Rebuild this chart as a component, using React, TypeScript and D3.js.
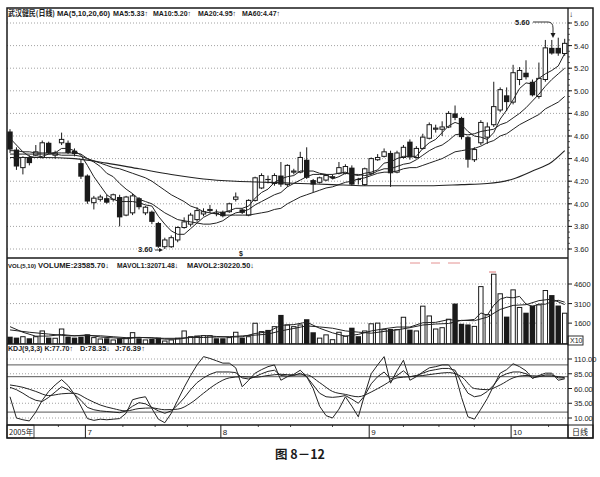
import React from "react";
import * as d3 from "d3";

// ---- candle data (index 0 = mid-June 2005) ----
const opens = [4.64,4.48,4.32,4.41,4.43,4.41,4.54,4.43,4.54,4.54,4.47,4.36,4.25,4.01,4.04,4.05,4.04,4.06,3.90,3.92,4.05,3.92,3.93,3.83,3.62,3.62,3.68,3.79,3.82,3.86,3.91,3.94,3.92,3.93,3.93,4.04,3.95,3.90,4.03,4.14,4.22,4.18,4.25,4.17,4.28,4.28,4.39,4.21,4.19,4.21,4.24,4.27,4.27,4.32,4.22,4.17,4.27,4.39,4.42,4.45,4.28,4.41,4.55,4.41,4.49,4.58,4.66,4.66,4.68,4.80,4.76,4.59,4.39,4.54,4.59,4.70,4.83,4.96,4.90,5.10,5.16,5.08,4.95,5.10,5.38,5.38,5.33];
const closes = [4.48,4.33,4.41,4.36,4.46,4.54,4.45,4.45,4.57,4.45,4.44,4.24,4.02,4.05,4.06,4.01,4.08,3.88,4.06,4.07,3.97,3.97,3.84,3.62,3.68,3.70,3.79,3.84,3.90,3.94,3.93,3.95,3.91,3.89,4.00,4.06,3.92,4.03,4.23,4.25,4.21,4.25,4.17,4.34,4.29,4.41,4.23,4.17,4.23,4.25,4.24,4.32,4.33,4.17,4.21,4.31,4.40,4.41,4.46,4.27,4.45,4.50,4.41,4.49,4.59,4.70,4.67,4.68,4.80,4.76,4.59,4.39,4.48,4.72,4.68,4.86,5.01,4.90,5.16,5.18,5.12,4.96,5.11,5.38,5.33,5.33,5.42];
const highs = [4.66,4.50,4.42,4.43,4.52,4.56,4.55,4.47,4.63,4.56,4.49,4.39,4.26,4.07,4.08,4.08,4.09,4.08,4.07,4.09,4.06,3.98,3.94,3.84,3.70,3.72,3.80,3.88,3.92,3.97,3.96,3.99,3.95,3.94,4.01,4.10,3.96,4.04,4.24,4.27,4.25,4.27,4.37,4.35,4.31,4.46,4.50,4.22,4.24,4.26,4.26,4.37,4.35,4.34,4.23,4.32,4.41,4.44,4.49,4.47,4.47,4.52,4.57,4.51,4.62,4.72,4.70,4.73,4.82,4.87,4.77,4.60,4.50,4.74,4.72,5.08,5.03,5.03,5.23,5.21,5.27,5.10,5.25,5.45,5.45,5.47,5.46];
const lows = [4.45,4.30,4.26,4.34,4.42,4.40,4.44,4.40,4.52,4.44,4.42,4.22,4.00,3.95,4.02,4.00,4.02,3.80,3.89,3.90,3.95,3.90,3.82,3.61,3.60,3.61,3.66,3.78,3.80,3.84,3.89,3.92,3.89,3.88,3.92,4.02,3.91,3.89,4.02,4.13,4.18,4.16,4.15,4.15,4.26,4.27,4.22,4.10,4.18,4.20,4.22,4.26,4.26,4.16,4.17,4.16,4.26,4.38,4.41,4.15,4.27,4.40,4.39,4.40,4.48,4.57,4.63,4.60,4.67,4.74,4.57,4.32,4.37,4.52,4.53,4.68,4.81,4.82,4.88,5.05,5.10,4.95,4.93,5.08,5.32,5.31,5.31];
const volumes = [560,490,560,440,560,1000,490,440,1150,560,490,560,740,490,385,440,310,440,440,870,440,310,385,490,230,310,440,1000,560,610,640,640,440,440,490,900,490,560,1590,950,1080,1330,2230,1460,1330,1460,1900,900,450,700,330,900,600,1250,600,1000,1550,1600,1100,1150,1100,2050,1100,1000,2900,2150,1150,1250,1900,3100,1550,1500,1350,4400,2250,5350,3850,2100,4150,2800,2400,2950,3000,4100,3750,2950,2360];

// ---- moving averages ----
const ma5 = [4.58,4.52,4.46,4.42,4.41,4.42,4.44,4.45,4.49,4.49,4.47,4.43,4.34,4.24,4.16,4.08,4.04,4.02,4.02,4.02,4.01,3.99,3.98,3.89,3.82,3.76,3.73,3.73,3.78,3.83,3.88,3.91,3.93,3.92,3.94,3.96,3.96,3.98,4.05,4.10,4.13,4.19,4.22,4.24,4.25,4.29,4.29,4.29,4.27,4.26,4.22,4.24,4.27,4.26,4.25,4.27,4.28,4.30,4.36,4.37,4.40,4.42,4.42,4.42,4.49,4.54,4.57,4.63,4.69,4.72,4.70,4.64,4.60,4.59,4.57,4.63,4.75,4.83,4.92,5.02,5.07,5.06,5.11,5.15,5.18,5.22,5.33];
const ma10 = [4.47,4.47,4.46,4.46,4.45,4.45,4.45,4.45,4.45,4.45,4.45,4.44,4.40,4.37,4.33,4.27,4.24,4.18,4.13,4.09,4.04,4.02,4.00,3.96,3.92,3.89,3.86,3.85,3.84,3.83,3.82,3.82,3.83,3.85,3.89,3.92,3.93,3.95,3.99,4.02,4.05,4.08,4.10,4.15,4.18,4.21,4.24,4.26,4.26,4.26,4.26,4.27,4.28,4.26,4.26,4.25,4.26,4.29,4.31,4.31,4.33,4.35,4.36,4.39,4.43,4.47,4.50,4.52,4.56,4.61,4.62,4.61,4.62,4.64,4.65,4.66,4.70,4.72,4.76,4.80,4.85,4.91,4.97,5.04,5.10,5.15,5.20];
const ma20 = [4.44,4.44,4.44,4.44,4.44,4.44,4.44,4.44,4.43,4.43,4.43,4.42,4.40,4.38,4.36,4.34,4.32,4.31,4.29,4.27,4.25,4.23,4.20,4.16,4.12,4.08,4.05,4.02,3.98,3.96,3.93,3.92,3.91,3.90,3.90,3.90,3.90,3.90,3.91,3.92,3.93,3.95,3.96,4.00,4.03,4.06,4.08,4.10,4.12,4.14,4.15,4.17,4.19,4.20,4.22,4.23,4.25,4.27,4.28,4.28,4.29,4.31,4.32,4.32,4.34,4.36,4.38,4.40,4.43,4.46,4.47,4.48,4.49,4.51,4.54,4.56,4.60,4.62,4.66,4.70,4.73,4.76,4.79,4.84,4.87,4.90,4.95];
const ma60Pts = [[0,4.41],[5,4.41],[10,4.40],[15,4.36],[20,4.31],[25,4.26],[30,4.22],[35,4.20],[40,4.19],[45,4.18],[50,4.17],[55,4.16],[60,4.16],[65,4.16],[70,4.17],[74,4.18],[78,4.22],[81,4.29],[84,4.37],[86,4.47]];

const volMa5Pts = [[0,1330],[2,900],[4,600],[6,610],[8,728],[10,626],[12,700],[14,533],[16,473],[18,403],[20,500],[22,489],[24,371],[26,371],[28,508],[30,650],[32,578],[34,530],[36,552],[38,806],[40,934],[42,1436],[44,1486],[46,1676],[48,1208],[50,856],[52,596],[54,736],[56,1000],[58,1170],[60,1300],[62,1300],[64,1630],[66,1660],[68,1870],[70,1790],[72,1880],[73,2380],[74,2210],[75,2970],[76,3440],[77,3590],[78,3540],[79,3650],[80,3060],[81,2880],[82,3060],[83,3050],[84,3240],[85,3350],[86,3207]];
const volMa10Pts = [[0,1080],[3,900],[6,760],[9,625],[12,643],[14,630],[16,556],[18,486],[20,511],[22,451],[24,436],[26,436],[28,504],[30,498],[32,536],[34,557],[36,621],[38,680],[40,758],[42,1006],[44,1192],[46,1389],[48,1309],[50,1209],[52,1003],[54,909],[56,828],[58,963],[60,1085],[62,1250],[64,1455],[66,1530],[68,1575],[70,1815],[72,1785],[74,2060],[76,2650],[78,2960],[80,3015],[82,3325],[84,3445],[86,3022]];

// ---- KDJ ----
const kVals = [62,58,52,45,40,38,45,54,63,58,50,40,28,24,22,21,20,19,22,30,36,34,28,22,18,22,32,44,58,70,78,84,88,88,88,87,78,76,80,85,89,91,82,81,82,86,80,66,52,46,45,46,48,42,35,48,68,80,88,76,82,90,80,82,86,90,92,94,94,91,70,52,46,48,55,66,80,85,88,88,85,78,80,83,83,78,77.7];
const jVals = [46,10,7,5,20,40,55,66,75,65,50,30,9,6,8,7,8,9,18,41,44,46,26,8,2,18,40,62,82,100,114,111,107,103,103,95,63,74,86,92,97,100,74,80,84,91,80,60,30,14,10,25,46,30,12,50,85,100,114,69,90,108,74,80,88,95,97,100,100,86,45,12,8,25,43,65,86,92,102,97,90,77,82,86,86,74,76.39];
const dPts = [[0,66],[2,62],[4,55],[6,48],[8,51],[10,52],[12,42],[14,32],[16,26],[18,22],[20,26],[22,27],[24,24],[26,25],[28,35],[30,52],[32,68],[34,78],[36,80],[38,79],[40,82],[42,84],[44,83],[46,83],[48,70],[50,55],[52,50],[54,46],[56,54],[58,66],[60,78],[62,80],[64,82],[66,85],[68,87],[70,80],[72,60],[74,58],[76,66],[78,78],[80,82],[82,81],[84,81],[86,78.35]];

// ---- axes ----
const priceTicks = [5.6,5.4,5.2,5.0,4.8,4.6,4.4,4.2,4.0,3.8,3.6];
const volTicks = [4600,3100,1600];
const kdjTicks = [110,85,60,35,10];
const kdjSolid = [100,80,20];
const monthStart = [12,33,56,78];
const monthName = ["7","8","9","10"];
const weekTicks = [7.5,17.5,22.5,27.5,38.5,43.5,50,61,66.5,72,83.5];

const F = "'Liberation Sans', Arial, sans-serif";
const CJK = "'Noto Sans CJK SC', sans-serif";

export default function App() {
  const L = 7, R = 568, RR = 593, T = 8, PB = 258, VB = 344, KB = 425, B = 438;
  const x = d3.scaleLinear().domain([0, 86]).range([10, 564.7]);
  const yP = d3.scaleLinear().domain([3.6, 5.6]).range([249, 23]);
  const yV = d3.scaleLinear().domain([0, 4600]).range([VB, 284]);
  const yK = d3.scaleLinear().domain([10, 110]).range([418, 359]);
  const bw = 4.4;
  const full = (ys: any) => d3.line<number>().x((_, i) => x(i)).y((v) => ys(v));
  const pts = (ys: any, curve: any = d3.curveLinear) =>
    d3.line<number[]>().x((p) => x(p[0])).y((p) => ys(p[1])).curve(curve);
  const up = (i: number) => closes[i] >= opens[i];
  const ink = "#1a1a1a";

  const hdr = (t: string, x0: number, w: number, y: number) => (
    <text x={x0} y={y} textLength={w} lengthAdjust="spacingAndGlyphs" fontSize={7.5} fontWeight="bold" fontFamily={F} fill={ink}>{t}</text>
  );

  return (
    <svg width={600} height={477} style={{ position: "absolute", left: 0, top: 0, background: "#fff" }}>
      <defs>
        <clipPath id="cp"><rect x={L} y={T} width={R - L} height={PB - T} /></clipPath>
        <clipPath id="cv"><rect x={L} y={PB} width={R - L} height={VB - PB} /></clipPath>
        <clipPath id="ck"><rect x={L} y={VB} width={R - L} height={KB - VB} /></clipPath>
      </defs>
      <rect width={600} height={477} fill="#fff" />

      {/* grid */}
      {priceTicks.map((t) => (
        <line key={"pg" + t} x1={L} x2={R} y1={yP(t)} y2={yP(t)} stroke="#8a8a8a" strokeWidth={0.8} strokeDasharray="1,2" />
      ))}
      {volTicks.map((t) => (
        <line key={"vg" + t} x1={L} x2={R} y1={yV(t)} y2={yV(t)} stroke="#8a8a8a" strokeWidth={0.8} strokeDasharray="1,2" />
      ))}
      {kdjTicks.map((t) => (
        <line key={"kg" + t} x1={L} x2={R} y1={yK(t)} y2={yK(t)} stroke="#8a8a8a" strokeWidth={0.8} strokeDasharray="1,2" />
      ))}
      {kdjSolid.map((t) => (
        <line key={"ks" + t} x1={L} x2={R} y1={yK(t)} y2={yK(t)} stroke="#444" strokeWidth={0.9} />
      ))}

      {/* price panel */}
      <g clipPath="url(#cp)">
        {opens.map((o, i) => (
          <line key={"w" + i} x1={x(i)} x2={x(i)} y1={yP(highs[i])} y2={yP(lows[i])} stroke={ink} strokeWidth={1} />
        ))}
        {opens.map((o, i) => {
          const y0 = yP(Math.max(o, closes[i]));
          const h = Math.max(1, Math.abs(yP(o) - yP(closes[i])));
          return up(i) ? (
            <rect key={"b" + i} x={x(i) - bw / 2} y={y0} width={bw} height={h} fill="#fff" stroke={ink} strokeWidth={1} />
          ) : (
            <rect key={"b" + i} x={x(i) - bw / 2 - 0.5} y={y0} width={bw + 1} height={h} fill={ink} />
          );
        })}
        <path d={full(yP)(ma5) || ""} fill="none" stroke="#222" strokeWidth={1} />
        <path d={full(yP)(ma10) || ""} fill="none" stroke="#222" strokeWidth={1} />
        <path d={full(yP)(ma20) || ""} fill="none" stroke="#222" strokeWidth={1} />
        <path d={pts(yP, d3.curveMonotoneX)(ma60Pts) || ""} fill="none" stroke="#222" strokeWidth={1.1} />
      </g>
      {/* price markers */}
      <text x={515} y={25} fontSize={7.5} fontWeight="bold" fontFamily={F} fill={ink}>5.60</text>
      <path d={`M533,22 L548,22 Q553,22 553,28 L553,36`} fill="none" stroke={ink} strokeWidth={0.9} />
      <path d="M550.5,33 L553,38 L555.5,33 Z" fill={ink} />
      <text x={138} y={252} fontSize={7.5} fontWeight="bold" fontFamily={F} fill={ink}>3.60</text>
      <path d="M155,250 L160,250" stroke={ink} strokeWidth={0.9} />
      <path d="M159,248 L163,250 L159,252 Z" fill={ink} />
      <text x={239} y={256} fontSize={7} fontWeight="bold" fontFamily={F} fill={ink}>$</text>

      {/* volume panel */}
      <g clipPath="url(#cv)">
        {volumes.map((v, i) =>
          up(i) ? (
            <rect key={"v" + i} x={x(i) - bw / 2} y={yV(v)} width={bw} height={VB - yV(v)} fill="#fff" stroke={ink} strokeWidth={1} />
          ) : (
            <rect key={"v" + i} x={x(i) - bw / 2 - 0.5} y={yV(v)} width={bw + 1} height={VB - yV(v)} fill={ink} />
          )
        )}
        <path d={pts(yV)(volMa5Pts) || ""} fill="none" stroke="#222" strokeWidth={1} />
        <path d={pts(yV)(volMa10Pts) || ""} fill="none" stroke="#222" strokeWidth={1} />
        <path d="M410,263 L420,263 M431,263 L440,263 M448,263 L460,263" stroke="#d77" strokeWidth={0.8} />
        <path d="M489,272 L496,272" stroke="#d77" strokeWidth={1} />
      </g>

      {/* KDJ panel */}
      <g clipPath="url(#ck)">
        <path d={full(yK)(kVals) || ""} fill="none" stroke="#222" strokeWidth={1} />
        <path d={full(yK)(jVals) || ""} fill="none" stroke="#222" strokeWidth={1} />
        <path d={pts(yK, d3.curveMonotoneX)(dPts) || ""} fill="none" stroke="#222" strokeWidth={1} />
      </g>

      {/* headers */}
      <text x={8} y={16} fontSize={7.5} fontWeight="bold" fontFamily={CJK} fill={ink} textLength={47} lengthAdjust="spacingAndGlyphs">武汉健民(日线)</text>
      {hdr("MA(5,10,20,60)", 57, 53, 16)}
      {hdr("MA5:5.33↑", 113, 35, 16)}
      {hdr("MA10:5.20↑", 153, 38, 16)}
      {hdr("MA20:4.95↑", 198, 38, 16)}
      {hdr("MA60:4.47↑", 242, 38, 16)}
      <text x={8} y={268} fontSize={6} fontWeight="bold" fontFamily={F} fill={ink}>VOL(5,10)</text>
      {hdr("VOLUME:23585.70↓", 38, 71, 268)}
      {hdr("MAVOL1:32071.48↓", 117, 61, 268)}
      {hdr("MAVOL2:30220.50↓", 187, 67, 268)}
      {hdr("KDJ(9,3,3) K:77.70↑", 8, 65, 351)}
      {hdr("D:78.35↓", 80, 30, 351)}
      {hdr("J:76.39↑", 115, 30, 351)}

      {/* right axis */}
      {priceTicks.map((t) => (
        <g key={"pt" + t}>
          <line x1={R} x2={R + 4} y1={yP(t)} y2={yP(t)} stroke={ink} strokeWidth={1} />
          <text x={R + 6} y={yP(t) + 3} fontSize={7.5} fontFamily={F} fill={ink}>{t.toFixed(2)}</text>
        </g>
      ))}
      {d3.range(3.6, 5.65, 0.05).map((t) => (
        <line key={"mt" + t} x1={R} x2={R + 2} y1={yP(t)} y2={yP(t)} stroke={ink} strokeWidth={0.7} />
      ))}
      {volTicks.map((t) => (
        <g key={"vt" + t}>
          <line x1={R} x2={R + 4} y1={yV(t)} y2={yV(t)} stroke={ink} strokeWidth={1} />
          <text x={R + 6} y={yV(t) + 3} fontSize={7.5} fontFamily={F} fill={ink}>{t}</text>
        </g>
      ))}
      {kdjTicks.map((t) => (
        <g key={"kt" + t}>
          <line x1={R} x2={R + 4} y1={yK(t)} y2={yK(t)} stroke={ink} strokeWidth={1} />
          <text x={R + 6} y={yK(t) + 3} fontSize={7.5} fontFamily={F} fill={ink}>{t.toFixed(2)}</text>
        </g>
      ))}
      <rect x={R} y={336} width={15} height={9} fill="#fff" stroke={ink} strokeWidth={0.9} />
      <text x={R + 2} y={343} fontSize={7} fontFamily={F} fill={ink}>X10</text>
      <text x={R + 1} y={17} fontSize={8} fontWeight="bold" fontFamily={F} fill={ink}>↓</text>

      {/* date bar */}
      <rect x={L} y={KB} width={27} height={B - KB} fill="#fff" stroke={ink} strokeWidth={0.8} />
      <text x={L + 2} y={B - 3} fontSize={7.5} fontFamily={CJK} fill={ink}>2005年</text>
      {monthStart.map((m, k) => (
        <g key={"m" + m}>
          <line x1={x(m) - 2} x2={x(m) - 2} y1={KB} y2={B} stroke={ink} strokeWidth={1} />
          <text x={x(m)} y={B - 3} fontSize={8} fontFamily={F} fill={ink}>{monthName[k]}</text>
        </g>
      ))}
      {weekTicks.map((w) => (
        <line key={"wt" + w} x1={x(w)} x2={x(w)} y1={KB} y2={KB + 2} stroke={ink} strokeWidth={0.8} />
      ))}
      <rect x={R} y={KB} width={RR - R} height={B - KB} fill="#fff" stroke={ink} strokeWidth={1} />
      <text x={R + 4} y={B - 3} fontSize={8} fontFamily={CJK} fill={ink}>日线</text>

      {/* frame */}
      <line x1={L} x2={R} y1={PB} y2={PB} stroke={ink} strokeWidth={1.3} />
      <line x1={L} x2={R} y1={VB} y2={VB} stroke={ink} strokeWidth={1.3} />
      <line x1={L} x2={R} y1={KB} y2={KB} stroke={ink} strokeWidth={1.3} />
      <line x1={R} x2={R} y1={T} y2={B} stroke={ink} strokeWidth={1.3} />
      <rect x={L} y={T} width={RR - L} height={B - T} fill="none" stroke={ink} strokeWidth={1.5} />

      {/* caption */}
      <text x={300} y={459} textAnchor="middle" fontSize={12.5} fontWeight="bold" fontFamily={CJK} fill={ink}>图 8－12</text>
    </svg>
  );
}
